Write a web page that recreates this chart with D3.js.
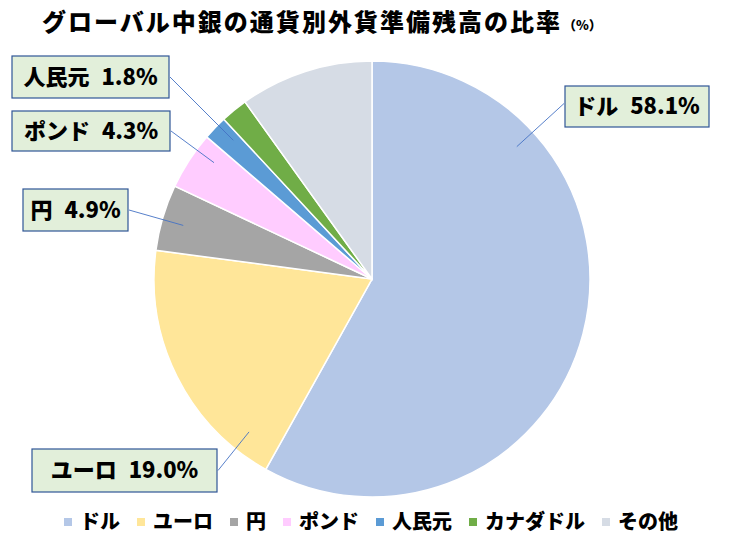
<!DOCTYPE html>
<html>
<head>
<meta charset="utf-8">
<script src="https://cdn.jsdelivr.net/npm/d3@7"></script>
<style>
  html, body { margin: 0; padding: 0; background: #fff; }
  svg text { font-family: "Noto Sans CJK JP", "Noto Sans", sans-serif; font-weight: 900; fill: #000; }
</style>
</head>
<body>
<div id="chart"></div>
<script>
// データ（時計回り、12時の位置から）
const currencies = ["ドル", "ユーロ", "円", "ポンド", "人民元", "カナダドル", "その他"];
const shares = [58.1, 19.0, 4.9, 4.3, 1.8, 2.0, 9.9];
const colors = ["#B4C7E7", "#FFE699", "#A5A5A5", "#FFCCFF", "#5B9BD5", "#70AD47", "#D6DCE5"];
// ラベルを付けるもの（Excel で手動配置されたラベル枠）
const labelled = ["ドル", "ユーロ", "円", "ポンド", "人民元"];
const labelBoxes = [
    { x: 565, y: 86, w: 144, h: 41 },
    { x: 32, y: 449, w: 185, h: 43 },
    { x: 23, y: 189, w: 105, h: 42 },
    { x: 12, y: 111, w: 158, h: 40 },
    { x: 12, y: 56, w: 157, h: 42 }
];

const width = 740, height = 552;
const cx = 372, cy = 279, radius = 218;

const svg = d3.select('#chart')
    .append('svg')
    .attr('width', width)
    .attr('height', height);

// タイトル
svg.append('text')
    .attr('x', 42)
    .attr('y', 31)
    .attr('font-size', 24)
    .attr('textLength', 518)
    .attr('lengthAdjust', 'spacing')
    .text('グローバル中銀の通貨別外貨準備残高の比率');
svg.append('text')
    .attr('x', 563)
    .attr('y', 30)
    .attr('font-size', 13)
    .attr('font-weight', 700)
    .text('（%）');

// 円グラフ
const data = currencies.map((c, i) => ({ name: c, value: shares[i], color: colors[i] }));
const pie = d3.pie().sort(null).value(d => d.value);
const arcs = pie(data);
const arc = d3.arc().innerRadius(0).outerRadius(radius);

const g = svg.append('g').attr('transform', `translate(${cx},${cy})`);
g.selectAll('.slice')
    .data(arcs)
    .enter()
    .append('path')
    .attr('class', 'slice')
    .attr('d', arc)
    .attr('fill', d => d.data.color)
    .attr('stroke', '#fff')
    .attr('stroke-width', 1.5);

// ラベルと引き出し線
labelled.forEach((name, i) => {
    const a = arcs.find(d => d.data.name === name);
    const box = labelBoxes[i];
    const bx = box.x + box.w / 2;
    const sx = bx < cx ? box.x + box.w + 1 : box.x - 1;
    const sy = box.y + box.h / 2 - (name === 'ドル' ? 3 : 0);
    let ang = Math.atan2(sx - cx, -(sy - cy));
    if (ang < 0) ang += 2 * Math.PI;
    const pad = 0.02;
    ang = Math.max(a.startAngle + pad, Math.min(a.endAngle - pad, ang));
    const r = radius * 0.9;
    const ex = cx + r * Math.sin(ang), ey = cy - r * Math.cos(ang);

    svg.append('line')
        .attr('x1', sx).attr('y1', sy)
        .attr('x2', ex).attr('y2', ey)
        .attr('stroke', '#4472C4')
        .attr('stroke-width', 0.9);

    svg.append('rect')
        .attr('x', box.x).attr('y', box.y)
        .attr('width', box.w).attr('height', box.h)
        .attr('fill', '#E2EFDA')
        .attr('stroke', '#2F5597')
        .attr('stroke-width', 1.2);

    const t = svg.append('text')
        .attr('x', box.x + box.w / 2)
        .attr('y', box.y + box.h / 2)
        .attr('dy', '0.36em')
        .attr('text-anchor', 'middle')
        .attr('font-size', 22);
    t.append('tspan').text(name);
    t.append('tspan').attr('dx', 12).text(`${d3.format('.1f')(a.data.value)}%`);
});

// 凡例
const legend = svg.append('g').attr('class', 'legend');
const items = legend.selectAll('.item')
    .data(data)
    .enter()
    .append('g')
    .attr('class', 'item');
items.append('rect')
    .attr('width', 8).attr('height', 8)
    .attr('y', -4)
    .attr('fill', d => d.color);
items.append('text')
    .attr('x', 16)
    .attr('dy', '0.36em')
    .attr('font-size', 20)
    .text(d => d.name);

const gap = 17;
let xpos = 0;
items.each(function () {
    const w = 16 + this.querySelector('text').getComputedTextLength();
    d3.select(this).attr('transform', `translate(${xpos},0)`);
    xpos += w + gap;
});
const total = xpos - gap;
legend.attr('transform', `translate(${(width - total) / 2 + 1},522)`);
</script>
</body>
</html>
